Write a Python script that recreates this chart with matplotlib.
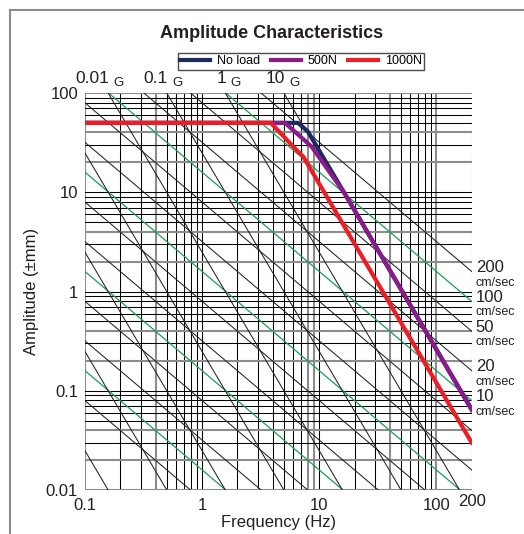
import matplotlib
matplotlib.use("Agg")
import numpy as np
import matplotlib.pyplot as plt
from matplotlib.lines import Line2D

plt.rcParams['font.family'] = ['Liberation Sans', 'DejaVu Sans']

# performance curves (Hz, +-mm)
freq_noload = [0.1, 6.6, 8.0, 16.4, 200]
amp_noload = [50, 50, 40.8, 9.8, 0.065]
freq_500 = [0.1, 5.1, 8.6, 16.4, 200]
amp_500 = [50, 50, 28.8, 9.8, 0.064]
freq_1000 = [0.1, 3.85, 6.0, 7.3, 200]
amp_1000 = [50, 50, 28.8, 22.8, 0.030]

# nomograph lines
velocities = [0.005, 0.01, 0.02, 0.05, 0.1, 0.2, 0.5, 1, 2, 5, 10, 20, 50, 100, 200]   # cm/sec
green_velocities = [0.01, 0.1, 1, 10, 100]
accelerations = [1e-6, 1e-5, 1e-4, 1e-3, 0.01, 0.1, 1, 10]   # G
accel_labels = [(0.01, "0.01"), (0.1, "0.1"), (1, "1"), (10, "10")]
vel_labels = [200, 100, 50, 20, 10]

x_ticks = [0.1, 1, 10, 100]
x_ticklabels = ["0.1", "1", "10", "100"]
y_ticks = [0.01, 0.1, 1, 10, 100]
y_ticklabels = ["0.01", "0.1", "1", "10", "100"]

G = 9807.0  # mm/s^2
W, H = 524, 534
fig = plt.figure(figsize=(W / 100, H / 100), dpi=100)
ax = fig.add_axes([85 / W, 1 - 490 / H, (471.7 - 85) / W, (490 - 93) / H])
ax.set_xscale('log')
ax.set_yscale('log')
ax.set_xlim(0.1, 200)
ax.set_ylim(0.01, 100)
for s in ax.spines.values():
    s.set_visible(False)

# grid
gray = '#8c8c8c'
gray_x = [0.1, 0.4, 8, 9, 40, 100]
xs = [m * 10.0 ** e for e in range(-1, 3) for m in range(1, 10)]
for v in xs:
    if v > 200:
        continue
    if any(abs(v - g) < 1e-9 for g in gray_x):
        ax.axvline(v, color=gray, lw=1.5, zorder=1)
    else:
        ax.axvline(v, color='black', lw=0.75, zorder=1)
ys = [m * 10.0 ** e for e in range(-2, 2) for m in range(1, 10)] + [100]
for v in ys:
    m = round(v / 10 ** np.floor(np.log10(v) + 1e-9))
    if m in (2, 4) or v in (0.01, 100):
        ax.axhline(v, color=gray, lw=1.5, zorder=1)
    else:
        ax.axhline(v, color='black', lw=0.75, zorder=1)

f = np.array([0.1, 200])
for v in velocities:
    a = v * 10 / (2 * np.pi * f)
    if v in green_velocities:
        ax.plot(f, a, color='#1a9e55', lw=0.9, zorder=2)
    else:
        ax.plot(f, a, color='#222222', lw=0.75, zorder=2)
for g in accelerations:
    a = g * G / (2 * np.pi * f) ** 2
    ax.plot(f, a, color='#222222', lw=0.75, zorder=2)

ax.plot(freq_noload, amp_noload, color='#1c2a5e', lw=3.0, label='No load', zorder=4)
ax.plot(freq_500, amp_500, color='#8b1a8a', lw=3.0, label='500N', zorder=5)
ax.plot(freq_1000, amp_1000, color='#ee1c25', lw=3.0, label='1000N', zorder=6)

ax.set_xticks(x_ticks)
ax.set_xticklabels(x_ticklabels)
ax.set_yticks(y_ticks)
ax.set_yticklabels(y_ticklabels)
ax.minorticks_off()
ax.tick_params(length=0, labelsize=12, colors='#231f20')
ax.tick_params(axis='x', pad=6)
ax.tick_params(axis='y', pad=5)
ax.text(200, 0.01, "200", fontsize=12, color='#231f20', ha='center', va='top',
        transform=ax.transData + matplotlib.transforms.ScaledTranslation(0, -3 / 72, fig.dpi_scale_trans))

ax.set_xlabel("Frequency (Hz)", fontsize=12, labelpad=1, color='#231f20')
ax.set_ylabel("Amplitude (\u00b1mm)", fontsize=12, labelpad=5, color='#231f20')

# acceleration labels on top
for g, txt in accel_labels:
    fx = np.sqrt(g * G / 100) / (2 * np.pi)
    ax.annotate(txt, (fx, 100), xytext=(1, 5), textcoords='offset points',
                ha='right', va='bottom', fontsize=12.5, color='#231f20', annotation_clip=False)
    ax.annotate("G", (fx, 100), xytext=(4, 3), textcoords='offset points',
                ha='left', va='bottom', fontsize=9.5, color='#231f20', annotation_clip=False)

# velocity labels on the right
for v in vel_labels:
    ay = v * 10 / (2 * np.pi * 200)
    ax.annotate(str(v), (200, ay), xytext=(3, 3), textcoords='offset points',
                ha='left', va='center', fontsize=12, color='#231f20', annotation_clip=False)
    ax.annotate("cm/sec", (200, ay), xytext=(3, -8), textcoords='offset points',
                ha='left', va='center', fontsize=9, color='#231f20', annotation_clip=False)

fig.text(272 / W, 1 - 33 / H, "Amplitude Characteristics", fontsize=13, fontweight='bold',
         ha='center', va='center', color='#231f20')
leg = fig.legend(loc='center', bbox_to_anchor=(301 / W, 1 - 61.5 / H), ncol=3, fontsize=9,
                 frameon=True, fancybox=False, edgecolor='#231f20', handlelength=2.4,
                 columnspacing=0.9, handletextpad=0.5, borderpad=0.2, labelspacing=0.2)
leg.get_frame().set_linewidth(1.0)

# outer frame
fig.add_artist(Line2D([9.5 / W, 9.5 / W], [0, 1 - 9.5 / H], color=gray, lw=1.5))
fig.add_artist(Line2D([9.5 / W, 1], [1 - 9.5 / H, 1 - 9.5 / H], color=gray, lw=1.5))

fig.savefig("out.png", dpi=100)
